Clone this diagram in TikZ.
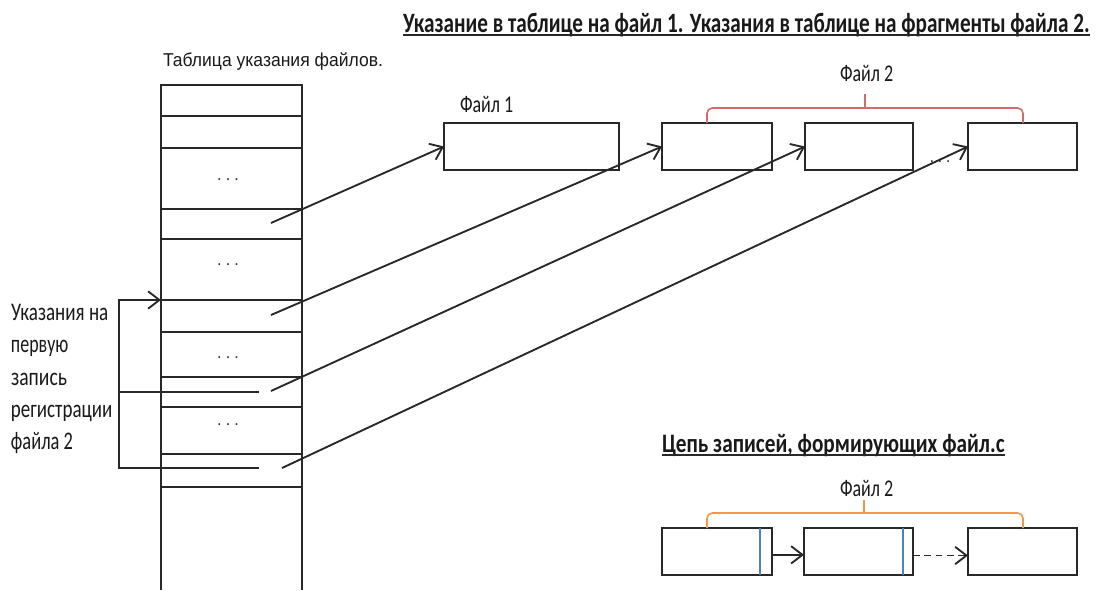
\documentclass[tikz,border=0pt]{standalone}
\usepackage{fontspec}
\usepackage{graphicx}
\setmainfont{Carlito}
\newfontfamily\tabfont{Liberation Sans}
\usetikzlibrary{arrows.meta}
\newcommand{\fitw}[2]{\resizebox{#1}{\height}{#2}}
\definecolor{lncol}{RGB}{40,40,40}
\definecolor{brred}{RGB}{212,106,106}
\definecolor{brorange}{RGB}{247,150,70}
\definecolor{lnblue}{RGB}{79,129,189}
\begin{document}
\begin{tikzpicture}[x=0.75pt,y=-0.75pt,
  ln/.style={draw=lncol,line width=1.5pt},
  box/.style={ln,rectangle,inner sep=0pt,outer sep=0pt,minimum height=35.25pt},
  arr/.style={draw=lncol,line width=1.4pt,-{Straight Barb[length=8.5pt,width=13pt,line width=1.4pt]}},
  txt/.style={inner sep=0pt,outer sep=0pt,anchor=base west,text=black!90},
  lbl/.style={txt,font=\fontsize{18}{20}\selectfont},
  lft/.style={txt,font=\fontsize{19}{22}\selectfont},
  dts/.style={inner sep=0pt,outer sep=0pt,anchor=base,text=black!80,font=\fontsize{13}{13}\selectfont},
  uline/.style={draw=lncol,line width=1.6pt}
]
\useasboundingbox (0,0) rectangle (1097,590);

% titles
\node[txt,font=\fontsize{21}{24}\selectfont\bfseries] (t1) at (403,32)
  {\fitw{515pt}{Указание в таблице на файл 1. Указания  в таблице на фрагменты  файла 2.}};
\draw[uline] ([yshift=-2.4pt]t1.base west) -- ([yshift=-2.4pt]t1.base east);

\node[txt,font=\fontsize{20}{22}\selectfont\bfseries] (t2) at (662,452)
  {\fitw{257pt}{Цепь записей, формирующих файл.с}};
\draw[uline] ([yshift=-2.4pt]t2.base west) -- ([yshift=-2.4pt]t2.base east);

\node[txt,font=\tabfont\fontsize{14}{16}\selectfont] (tt) at (163,66)
  {\fitw{165pt}{Таблица  указания  файлов.}};

% table
\draw[ln] (161,590) -- (161,85) -- (302,85) -- (302,590);
\foreach \y in {116,148,209,239,300,332,377,407,454,487}
  \draw[ln] (161,\y) -- (302,\y);
\node[dts] (d1) at (228,180) {\fitw{16pt}{. . .}};
\node[dts] (d2) at (228,265) {\fitw{16pt}{. . .}};
\node[dts] (d3) at (228,358) {\fitw{16pt}{. . .}};
\node[dts] (d4) at (228,425) {\fitw{16pt}{. . .}};

% upper boxes
\node[box,minimum width=131.25pt] (f1) at (531.5,146.5) {};
\node[box,minimum width=82.5pt]   (f2) at (717,146.5) {};
\node[box,minimum width=81pt]     (f3) at (859,146.5) {};
\node[box,minimum width=81.75pt]  (f4) at (1022.5,146.5) {};
\node[lbl] (l1) at (460,112) {\fitw{40pt}{Файл 1}};
\node[lbl] (l2) at (840,81) {\fitw{40pt}{Файл 2}};
\node[dts] (d5) at (940,162) {\fitw{15pt}{. . .}};

% red bracket
\draw[brred,line width=1.2pt,rounded corners=4pt] (707,123) -- (707,108) -- (1023,108) -- (1023,123);
\draw[brred,line width=1.2pt] (865,108) -- (865,94);

% pointers from the table
\coordinate (s1) at (271,223);
\coordinate (s2) at (271,315);
\coordinate (s3) at (271,391);
\coordinate (s4) at (282,468);
\draw[arr] (s1) -- (f1.west);
\draw[arr] (s2) -- (f2.west);
\draw[arr] (s3) -- (f3.west);
\draw[arr] (s4) -- (f4.west);

% left bracket
\coordinate (tl) at (161,300);
\coordinate (bk) at (119,300);
\coordinate (m1) at (259,392);
\coordinate (m2) at (259,468);
\draw[arr] (m2) -| (bk) -- (tl);
\draw[ln,line width=1.4pt] (m1) -- (m1 -| bk);

\node[lft] (a1) at (11,320) {\fitw{73pt}{Указания на}};
\node[lft] (a2) at (11,352) {\fitw{43pt}{первую}};
\node[lft] (a3) at (11,385) {\fitw{42pt}{запись}};
\node[lft] (a4) at (11,417) {\fitw{76pt}{регистрации}};
\node[lft] (a5) at (11,449) {\fitw{46.5pt}{файла 2}};

% lower chain
\node[box,minimum width=82.5pt]  (c1) at (717,551.5) {};
\node[box,minimum width=81.75pt] (c2) at (858.5,551.5) {};
\node[box,minimum width=81.75pt] (c3) at (1022.5,551.5) {};
\draw[lnblue,line width=1.3pt] (760,528) -- (760,575);
\draw[lnblue,line width=1.3pt] (903,528) -- (903,575);
\draw[arr] ([yshift=-2.5pt]c1.east) -- ([yshift=-2.5pt]c2.west);
\draw[arr,dash pattern=on 5pt off 3.5pt] ([yshift=-3pt]c2.east) -- ([yshift=-3pt]c3.west);
\node[lbl] (l3) at (840,496) {\fitw{40pt}{Файл 2}};
\draw[brorange,line width=1.2pt,rounded corners=4pt] (707,528) -- (707,513) -- (1023,513) -- (1023,528);
\draw[brorange,line width=1.2pt] (864,513) -- (864,500);
\end{tikzpicture}
\end{document}
